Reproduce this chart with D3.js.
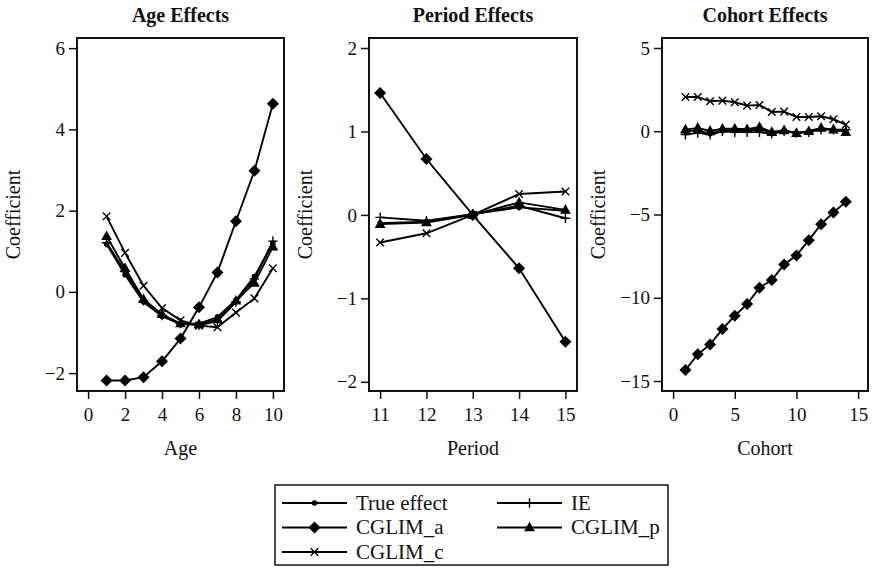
<!DOCTYPE html>
<html>
<head>
<meta charset="utf-8">
<script src="https://cdn.jsdelivr.net/npm/d3@7"></script>
<style>
  body { margin: 0; background: #fff; }
  text { font-family: "Liberation Serif", "DejaVu Serif", serif; fill: #111; }
</style>
</head>
<body>
<svg id="chart" width="872" height="568"></svg>
<script>
// data
var ageX = [1, 2, 3, 4, 5, 6, 7, 8, 9, 10];
var ageTrue   = [1.18, 0.42, -0.25, -0.60, -0.80, -0.78, -0.62, -0.20, 0.38, 1.20];
var ageIE     = [1.21, 0.50, -0.22, -0.58, -0.78, -0.82, -0.72, -0.25, 0.32, 1.25];
var ageCGa    = [-2.18, -2.18, -2.10, -1.71, -1.15, -0.38, 0.48, 1.74, 2.98, 4.63];
var ageCGp    = [1.37, 0.58, -0.18, -0.55, -0.78, -0.80, -0.68, -0.22, 0.22, 1.11];
var ageCGc    = [1.86, 0.96, 0.15, -0.40, -0.70, -0.83, -0.87, -0.51, -0.16, 0.58];

var periodX = [11, 12, 13, 14, 15];
var periodTrue = [-0.10, -0.08, 0.01, 0.09, 0.05];
var periodIE   = [-0.03, -0.07, 0.01, 0.11, -0.04];
var periodCGa  = [1.46, 0.67, 0.0, -0.64, -1.52];
var periodCGp  = [-0.11, -0.09, 0.0, 0.15, 0.06];
var periodCGc  = [-0.33, -0.22, 0.0, 0.25, 0.28];

var cohortX = [1, 2, 3, 4, 5, 6, 7, 8, 9, 10, 11, 12, 13, 14];
var cohortTrue = [0.0, 0.05, -0.15, 0.05, 0.05, 0.05, 0.10, -0.05, 0.05, -0.10, 0.0, 0.15, 0.10, 0.0];
var cohortIE   = [-0.20, -0.10, -0.20, 0.0, -0.05, -0.05, -0.05, -0.15, 0.0, -0.10, -0.05, 0.10, 0.10, 0.10];
var cohortCGa  = [-14.34, -13.40, -12.80, -11.88, -11.08, -10.38, -9.40, -8.94, -8.00, -7.46, -6.54, -5.58, -4.88, -4.24];
var cohortCGp  = [0.10, 0.20, 0.02, 0.15, 0.15, 0.12, 0.25, -0.05, 0.05, -0.12, 0.0, 0.20, 0.10, -0.05];
var cohortCGc  = [2.06, 2.06, 1.80, 1.84, 1.74, 1.54, 1.58, 1.16, 1.18, 0.86, 0.86, 0.90, 0.72, 0.40];

var ageTicksX = [0, 2, 4, 6, 8, 10], ageTicksY = [-2, 0, 2, 4, 6];
var periodTicksX = [11, 12, 13, 14, 15], periodTicksY = [-2, -1, 0, 1, 2];
var cohortTicksX = [0, 5, 10, 15], cohortTicksY = [-15, -10, -5, 0, 5];

var seriesNames = ['True effect', 'IE', 'CGLIM_a', 'CGLIM_p', 'CGLIM_c'];
var seriesMarks = ['dot', 'plus', 'diamond', 'triangle', 'cross'];

var svg = d3.select('#chart');
var plotTop = 38, plotBottom = 391;
var fmt = d3.format('d');

function marker(sel, type) {
  if (type === 'dot') {
    sel.append('circle').attr('r', 2.8).attr('fill', '#000');
  } else if (type === 'diamond') {
    sel.append('path').attr('d', 'M0,-6L6,0L0,6L-6,0Z').attr('fill', '#000');
  } else if (type === 'triangle') {
    sel.append('path').attr('d', 'M0,-5.8L5.4,3.8L-5.4,3.8Z').attr('fill', '#000');
  } else if (type === 'plus') {
    sel.append('path').attr('d', 'M-4.8,0H4.8M0,-4.8V4.8').attr('stroke', '#000').attr('stroke-width', 1.4);
  } else {
    sel.append('path').attr('d', 'M-3.8,-3.8L3.8,3.8M-3.8,3.8L3.8,-3.8').attr('stroke', '#000').attr('stroke-width', 1.4);
  }
}

function styleAxis(a) {
  a.select('.domain').remove();
  a.selectAll('line').attr('stroke', '#111').attr('stroke-width', 1.5);
  a.selectAll('text').attr('font-size', 19).attr('fill', '#111')
    .style('font-family', '"Liberation Serif", serif');
}

function panel(opt) {
  var x = d3.scaleLinear().domain(opt.xDomain).range([opt.left, opt.right]);
  var y = d3.scaleLinear().domain(opt.yDomain).range([plotBottom, plotTop]);
  var g = svg.append('g');

  g.append('g')
    .attr('transform', 'translate(' + opt.left + ',0)')
    .call(d3.axisLeft(y).tickValues(opt.yTicks).tickFormat(fmt).tickSize(8).tickPadding(4).tickSizeOuter(0))
    .call(styleAxis);

  g.append('g')
    .attr('transform', 'translate(0,' + plotBottom + ')')
    .call(d3.axisBottom(x).tickValues(opt.xTicks).tickFormat(fmt).tickSize(8).tickPadding(9).tickSizeOuter(0))
    .call(styleAxis);

  g.append('rect')
    .attr('x', opt.left).attr('y', plotTop)
    .attr('width', opt.right - opt.left).attr('height', plotBottom - plotTop)
    .attr('fill', 'none').attr('stroke', '#111').attr('stroke-width', 2);

  var line = d3.line().x(function(d) { return x(d[0]); }).y(function(d) { return y(d[1]); });

  opt.series.forEach(function(vals, i) {
    var pts = opt.xs.map(function(v, j) { return [v, vals[j]]; });
    g.append('path').datum(pts).attr('d', line)
      .attr('fill', 'none').attr('stroke', '#000').attr('stroke-width', 1.9);
    g.selectAll(null).data(pts).enter().append('g')
      .attr('transform', function(d) { return 'translate(' + x(d[0]) + ',' + y(d[1]) + ')'; })
      .each(function() { marker(d3.select(this), seriesMarks[i]); });
  });

  var cx = (opt.left + opt.right) / 2;
  g.append('text').attr('x', cx).attr('y', 22).attr('text-anchor', 'middle')
    .attr('font-size', 20).attr('font-weight', 'bold').text(opt.title);
  g.append('text').attr('x', cx).attr('y', 455).attr('text-anchor', 'middle')
    .attr('font-size', 20).text(opt.xLabel);
  g.append('text')
    .attr('transform', 'translate(' + (opt.left - 57) + ',' + ((plotTop + plotBottom) / 2) + ') rotate(-90)')
    .attr('text-anchor', 'middle').attr('font-size', 20).text('Coefficient');
}

panel({ title: 'Age Effects', xLabel: 'Age', left: 77, right: 284,
  xDomain: [-0.6, 10.6], yDomain: [-2.44, 6.25], xTicks: ageTicksX, yTicks: ageTicksY,
  xs: ageX, series: [ageTrue, ageIE, ageCGa, ageCGp, ageCGc] });
panel({ title: 'Period Effects', xLabel: 'Period', left: 369, right: 577,
  xDomain: [10.76, 15.25], yDomain: [-2.11, 2.12], xTicks: periodTicksX, yTicks: periodTicksY,
  xs: periodX, series: [periodTrue, periodIE, periodCGa, periodCGp, periodCGc] });
panel({ title: 'Cohort Effects', xLabel: 'Cohort', left: 662, right: 868,
  xDomain: [-0.9, 15.8], yDomain: [-15.6, 5.6], xTicks: cohortTicksX, yTicks: cohortTicksY,
  xs: cohortX, series: [cohortTrue, cohortIE, cohortCGa, cohortCGp, cohortCGc] });

// legend
var leg = svg.append('g');
leg.append('rect').attr('x', 275).attr('y', 485).attr('width', 393).attr('height', 80)
  .attr('fill', '#fff').attr('stroke', '#111').attr('stroke-width', 1.5);
var legPos = [[282, 503], [497, 503], [282, 527.5], [497, 527.5], [282, 552]];
seriesNames.forEach(function(name, k) {
  var p = legPos[k];
  var item = leg.append('g').attr('transform', 'translate(' + p[0] + ',' + p[1] + ')');
  item.append('line').attr('x1', 0).attr('x2', 65).attr('stroke', '#000').attr('stroke-width', 1.9);
  marker(item.append('g').attr('transform', 'translate(32.5,0)'), seriesMarks[k]);
  item.append('text').attr('x', 74).attr('y', 6.5).attr('font-size', 21).text(name);
});
</script>
</body>
</html>
